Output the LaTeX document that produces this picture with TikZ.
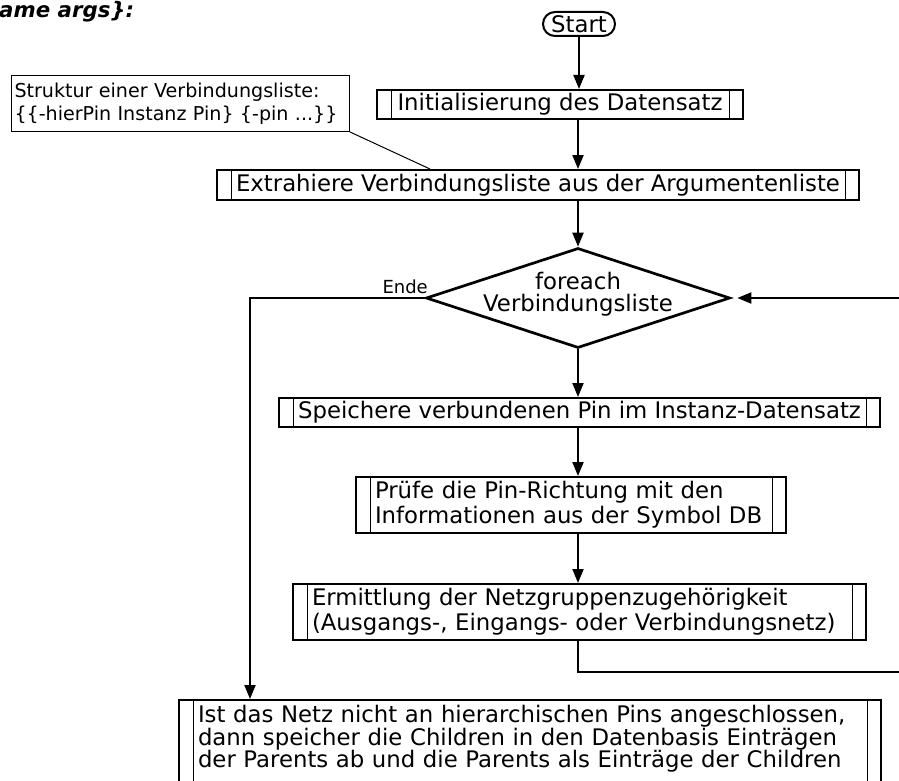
\documentclass[tikz,border=0pt]{standalone}
\usepackage{fontspec}
\setmainfont{DejaVu Sans}
\usetikzlibrary{arrows.meta,shapes.geometric}

% font sizes used in the flowchart
\newcommand\mainsz{\fontsize{22.8}{22.5}\selectfont}
\newcommand\widesz{\fontsize{22.8}{25}\selectfont}
\newcommand\notesz{\fontsize{19.1}{23}\selectfont}
\newcommand\exitsz{\fontsize{18}{20}\selectfont}
\newcommand\titlesz{\fontsize{21.3}{24}\selectfont\bfseries\itshape}

\tikzset{
  flow/.style={line width=2pt, -{Triangle[length=14pt,width=11pt]}},
  edge/.style={line width=2pt},
  % predefined-process box: outer frame with two thin side bars
  sub/.style={draw, line width=2pt, font=\mainsz, inner sep=0pt,
    path picture={
      \draw[line width=1pt]
        ([xshift=14pt]path picture bounding box.north west) --
        ([xshift=14pt]path picture bounding box.south west);
      \draw[line width=1pt]
        ([xshift=-14pt]path picture bounding box.north east) --
        ([xshift=-14pt]path picture bounding box.south east);
    }},
  subml/.style={sub, align=left, inner xsep=19pt},
  note/.style={draw, line width=1pt, font=\notesz, align=left, inner xsep=3pt},
}

\begin{document}
\begin{tikzpicture}[x=1pt,y=-1pt]
\useasboundingbox (0,0) rectangle (899,781);
\clip (0,0) rectangle (899,781);

\coordinate (axis) at (578,0);

% heading
\node[font=\titlesz, anchor=base west, inner sep=0pt] (title) at (-1,18) {ame args\}:};

% comment box
\node[note, anchor=north west, text width=332pt, minimum height=56pt] (note) at (11,75)
  {Struktur einer Verbindungsliste:\\\{\{-hierPin Instanz Pin\} \{-pin ...\}\}};

% flow nodes
\node[draw, line width=2pt, rounded corners=12pt, minimum width=72pt, minimum height=24pt,
      inner sep=0pt, font=\mainsz] (start) at (579,24) {Start};
\node[sub, minimum width=366pt, minimum height=29pt] (init) at (560,104.5)
  {Initialisierung des Datensatz};
\node[sub, minimum width=642pt, minimum height=30pt] (extract) at (538,185)
  {Extrahiere Verbindungsliste aus der Argumentenliste};
\node[diamond, draw, line width=2.7pt, minimum width=304pt, minimum height=100pt,
      inner sep=0pt] (dia) at (578,298) {};
\node[font=\mainsz, align=center, inner sep=0pt] (diatext) at ([yshift=4pt]dia.center)
  {foreach\\Verbindungsliste};
\node[sub, minimum width=601pt, minimum height=29pt] (store) at (579.5,412.5)
  {Speichere verbundenen Pin im Instanz-Datensatz};
\node[subml, font=\widesz, text width=392pt, minimum height=56pt] (check) at (571,505)
  {Prüfe die Pin-Richtung mit den\\Informationen aus der Symbol DB};
\node[subml, font=\widesz, text width=535pt, minimum height=56pt] (group) at (579.5,612)
  {Ermittlung der Netzgruppenzugehörigkeit\\(Ausgangs-, Eingangs- oder Verbindungsnetz)};
\node[subml, anchor=north west, text width=664pt, inner ysep=5.5pt, text depth=80pt] (link) at (178,699)
  {Ist das Netz nicht an hierarchischen Pins angeschlossen,\\dann speicher die Children in den Datenbasis Einträgen\\der Parents ab und die Parents als Einträge der Children};

% comment connector
\draw[line width=1pt] (note.south east) -- (430,0 |- extract.north);

% main flow
\draw[flow] (start.south) -- (start.south |- init.north);
\draw[flow] (axis |- init.south) -- (axis |- extract.north);
\draw[flow] (axis |- extract.south) -- (dia.north);
\draw[flow] (dia.south) -- (axis |- store.north);
\draw[flow] (axis |- store.south) -- (axis |- check.north);
\draw[flow] (axis |- check.south) -- (axis |- group.north);

% loop back to the foreach test
\draw[flow, shorten >=6pt] (axis |- group.south) -- ++(0,31) -- ++(337,0) |- (dia.east);

% exit branch
\node[font=\exitsz, anchor=base east, inner sep=0pt] (ende) at (428,293) {Ende};
\draw[flow] (dia.west) -- (250,0 |- dia.west) -- (250,0 |- link.north);
\end{tikzpicture}
\end{document}
